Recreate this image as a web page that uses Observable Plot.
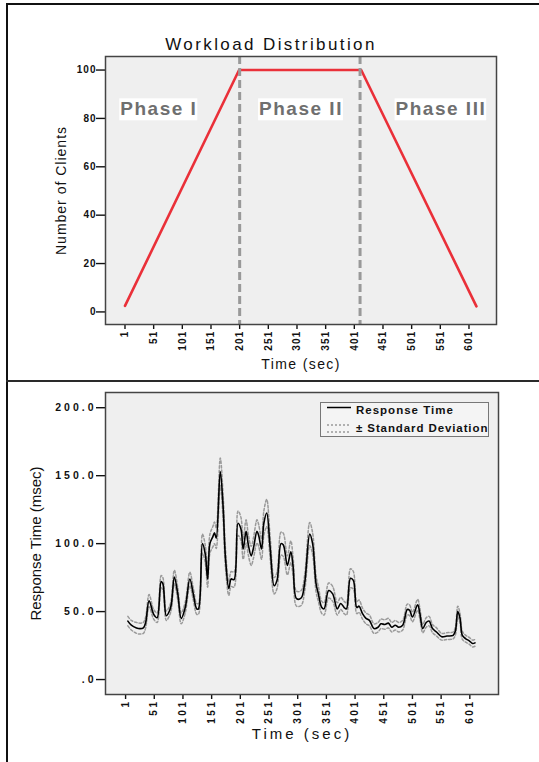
<!DOCTYPE html>
<html><head><meta charset="utf-8">
<script src="https://cdn.jsdelivr.net/npm/d3@7"></script>
<script src="https://cdn.jsdelivr.net/npm/@observablehq/plot@0.6"></script>
<style>
html,body{margin:0;padding:0;background:#fff;}
#page{position:relative;width:539px;height:762px;overflow:hidden;font-family:"Liberation Sans",Arial,Helvetica,sans-serif;}
.abs{position:absolute;}
#title{left:0;top:36px;width:539px;padding-left:3px;box-sizing:border-box;text-align:center;font-size:17px;line-height:17px;letter-spacing:2.4px;color:#111;white-space:nowrap;}
</style></head><body>
<div id="page">
  <div class="abs" style="left:6px;top:3px;width:540px;height:2px;background:#111"></div>
  <div class="abs" style="left:6px;top:3px;width:2px;height:770px;background:#111"></div>
  <div class="abs" style="left:6px;top:380px;width:540px;height:2px;background:#2a2a2a"></div>
  <div id="top" class="abs" style="left:0;top:0"></div>
  <div id="bottom" class="abs" style="left:0;top:380px"></div>
  <div id="title" class="abs">Workload Distribution</div>
  <div id="legend" class="abs" style="left:320px;top:402px;width:169px;height:35px;box-sizing:border-box;border:1px solid #777;background:#f4f4f4;">
    <svg width="167" height="33" style="display:block;font-family:'Liberation Sans',Arial,sans-serif">
      <line x1="6" x2="30" y1="4.5" y2="4.5" stroke="#000" stroke-width="1.5"/>
      <text x="35" y="11" font-size="11.5" font-weight="bold" fill="#111" style="letter-spacing:1px">Response Time</text>
      <line x1="6" x2="30" y1="22" y2="22" stroke="#999" stroke-width="1.4" stroke-dasharray="2,2"/>
      <line x1="6" x2="30" y1="29" y2="29" stroke="#999" stroke-width="1.4" stroke-dasharray="2,2"/>
      <text x="35" y="29" font-size="11.5" font-weight="bold" fill="#111" style="letter-spacing:0.9px">± Standard Deviation</text>
    </svg>
  </div>
</div>
<script>
// ---------- Top chart data ----------
const clientTime = [1, 200, 413, 614];
const clientCount = [2.5, 100, 100, 2.3];
const phaseBounds = [201, 411];
const phaseNames = ["Phase I", "Phase II", "Phase III"];
const phaseLabelTime = [60, 308, 552];
const phaseLabelCount = [84, 84, 84];
const timeTicks = [1, 51, 101, 151, 201, 251, 301, 351, 401, 451, 501, 551, 601];
const clientTicks = [0, 20, 40, 60, 80, 100];

// ---------- Bottom chart data ----------
const respTime = [5,11,20,26,32,36,42,50,56,63,
  66,72,78,81,86,92,98,105,113,119,
  125,128,135,140,144,148,153,156,159,166,
  171,175,181,185,190,197,202,206,211,215,
  220,224,230,233,238,242,247,253,260,265,
  272,276,283,289,293,299,307,313,322,327,
  333,337,343,347,355,362,370,376,382,386,
  393,398,404,408,414,420,426,434,441,446,
  453,459,465,471,477,484,492,496,501,510,
  514,519,525,530,536,543,552,561,572,576,
  580,584,588,594,600,606,610];
const respMean = [43,40,38,37.5,38,42,58,48,45.5,72,
  70.5,47,51,56,75.5,63,45,53,74,63,
  52,52,100,92,74,100,105,108,104,153,
  127,90,67,74,73.5,115,111,96,109,99,
  91,97,109,106,96,115,122.5,97,69,73,
  100,99,84,94,83,59.5,60,70.5,107,100,
  70.5,63,53,52,65.5,63,52,56,53,52,
  74.5,73,53,54,48.5,45,43.5,37.5,38.5,41,
  40.5,41.5,38.5,40,38.5,40,51.5,51,46,55,
  48.5,37.5,42,43,37.5,35,31.5,32,32.5,36,
  50,45,32.5,30,28.5,26.5,27];
const respSD = [3.5,3.5,4,4,4,4,4.5,3.5,3.5,4.5,
  4.5,3.5,3.5,4,5,4.5,4,4,5,4.5,
  4,4,7,6.5,6,7,7.5,8,7.5,10,
  9,7,5,5.5,5.5,9,8.5,7.5,8.5,7.5,
  7,7.5,8.5,8,7.5,9,10,8,6,6,
  8.5,8.5,7,8,7,5.5,5.5,6,8.5,8,
  6,5.5,4.5,4.5,5.5,5.5,4.5,4.5,4.5,4.5,
  7,6.5,4.5,4.5,4,4,4,3.5,3.5,3.5,
  3.5,3.5,3.5,3.5,3.5,3.5,4,4,3.5,4,
  4,3,3.5,3.5,3,3,2.5,2.5,2.5,3,
  4,3.5,3,2.5,2.5,2.5,2.5];
const respTicks = [0, 50, 100, 150, 200];
const respTickLabels = [".0", "50.0", "100.0", "150.0", "200.0"];

const font = '"Liberation Sans", Arial, Helvetica, sans-serif';

const clientData = clientTime.map((t, i) => ({t, n: clientCount[i]}));
const phaseData = phaseNames.map((name, i) => ({name, t: phaseLabelTime[i], n: phaseLabelCount[i]}));

const topChart = Plot.plot({
  width: 539, height: 380,
  marginLeft: 105, marginRight: 43, marginTop: 56, marginBottom: 56,
  style: {fontFamily: font, background: "transparent", overflow: "visible"},
  x: {domain: [-33, 649], label: null},
  y: {domain: [-5.2, 105.6], label: null},
  marks: [
    Plot.frame({fill: "#efefef"}),
    Plot.line(clientData, {x: "t", y: "n", stroke: "#ea3039", strokeWidth: 2.6}),
    Plot.ruleX(phaseBounds, {stroke: "#999", strokeWidth: 3, strokeDasharray: "8,4"}),
    Plot.text(phaseData, {x: "t", y: "n", text: "name", fontSize: 19, fontWeight: "bold", fill: "#6f6f6f"}),
    Plot.axisX(timeTicks, {tickRotate: -90, tickSize: 5, tickPadding: 1, fontSize: 10, fontWeight: "bold", color: "#111", strokeWidth: 1.4, label: null}),
    Plot.axisY(clientTicks, {tickSize: 9, tickPadding: 0, fontSize: 10, fontWeight: "bold", color: "#111", strokeWidth: 1.4, label: null}),
    Plot.frame({stroke: "#444", strokeWidth: 1.5}),
    Plot.text(["Number of Clients"], {frameAnchor: "left", dx: -44, rotate: -90, textAnchor: "middle", lineAnchor: "middle", fontSize: 14, fill: "#111"}),
    Plot.text(["Time (sec)"], {frameAnchor: "bottom", dy: 40, textAnchor: "middle", lineAnchor: "middle", fontSize: 14, fill: "#111"})
  ]
});
document.getElementById("top").append(topChart);

const resp = respTime.map((t, i) => ({t, m: respMean[i], sd: respSD[i]}));
const bottomChart = Plot.plot({
  width: 539, height: 382,
  marginLeft: 105, marginRight: 41, marginTop: 12, marginBottom: 68,
  style: {fontFamily: font, background: "transparent", overflow: "visible"},
  x: {domain: [-34, 651], label: null},
  y: {domain: [-11, 211.2], label: null},
  marks: [
    Plot.frame({fill: "#efefef"}),
    Plot.line(resp, {x: "t", y: d => d.m + d.sd, stroke: "#9a9a9a", strokeWidth: 1.5, strokeDasharray: "2.5,2", curve: "catmull-rom"}),
    Plot.line(resp, {x: "t", y: d => d.m - d.sd, stroke: "#9a9a9a", strokeWidth: 1.5, strokeDasharray: "2.5,2", curve: "catmull-rom"}),
    Plot.line(resp, {x: "t", y: "m", stroke: "#000", strokeWidth: 1.6, curve: "catmull-rom"}),
    Plot.axisX(timeTicks, {tickRotate: -90, tickSize: 5, tickPadding: 0, fontSize: 10, fontWeight: "bold", color: "#111", strokeWidth: 1.4, label: null}),
    Plot.axisY(respTicks, {tickSize: 9, tickPadding: 0, fontSize: 10.5, fontWeight: "bold", color: "#111", strokeWidth: 1.4, label: null,
      tickFormat: d => respTickLabels[respTicks.indexOf(d)]}),
    Plot.frame({stroke: "#444", strokeWidth: 1.5}),
    Plot.text(["Response Time (msec)"], {frameAnchor: "left", dx: -69, rotate: -90, textAnchor: "middle", lineAnchor: "middle", fontSize: 15, fill: "#111"}),
    Plot.text(["Time (sec)"], {frameAnchor: "bottom", dy: 40, textAnchor: "middle", lineAnchor: "middle", fontSize: 15, fill: "#111"})
  ]
});
document.getElementById("bottom").append(bottomChart);

function textsWhere(svg, pred) {
  return Array.from(svg.querySelectorAll("text")).filter(pred);
}
function spacingGroup(svg, label, px) {
  svg.querySelectorAll(`g[aria-label="${label}"]`).forEach(g => g.style.letterSpacing = px + "px");
}
function spacingText(svg, strings, px) {
  textsWhere(svg, t => strings.includes(t.textContent)).forEach(t => t.style.letterSpacing = px + "px");
}
spacingGroup(topChart, "y-axis tick label", 1);
spacingGroup(topChart, "x-axis tick label", 1.2);
spacingText(topChart, ["Number of Clients"], 1);
spacingText(topChart, ["Time (sec)"], 1.4);
spacingText(topChart, phaseNames, 1.5);
spacingGroup(bottomChart, "y-axis tick label", 3);
spacingGroup(bottomChart, "x-axis tick label", 2.5);
spacingText(bottomChart, ["Time (sec)"], 3);

// white boxes behind phase labels
textsWhere(topChart, t => phaseNames.includes(t.textContent)).forEach(function (el) {
  const b = el.getBBox();
  const r = document.createElementNS("http://www.w3.org/2000/svg", "rect");
  r.setAttribute("x", b.x - 1);
  r.setAttribute("y", b.y + 0.5);
  r.setAttribute("width", b.width + 1);
  r.setAttribute("height", b.height + 1);
  r.setAttribute("fill", "#fff");
  const tr = el.getAttribute("transform");
  if (tr) r.setAttribute("transform", tr);
  el.parentNode.insertBefore(r, el);
});
</script>
</body></html>
